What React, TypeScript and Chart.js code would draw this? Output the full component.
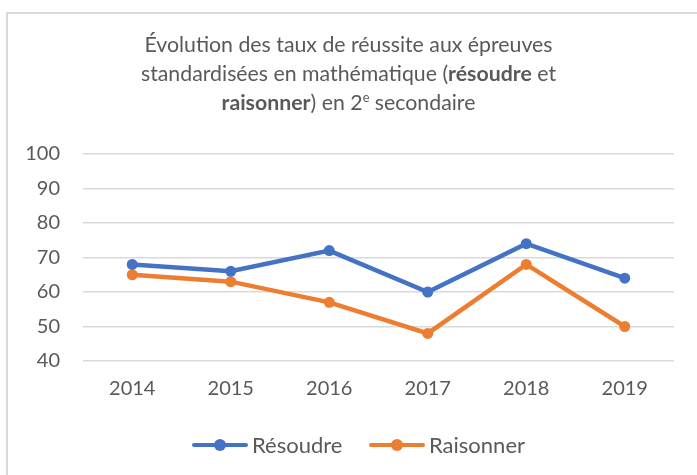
import React, { useEffect, useRef } from "react";
import { Chart, registerables } from "chart.js";

Chart.register(...registerables);

const years = ["2014", "2015", "2016", "2017", "2018", "2019"];
const resoudre = [68, 66, 72, 60, 74, 64];
const raisonner = [65, 63, 57, 48, 68, 50];
const yMin = 40;
const yMax = 100;
const yStep = 10;

const BLUE = "#4472C4";
const ORANGE = "#ED7D31";
const TEXT = "#595959";
const GRID = "#d9d9d9";
const FONT = "Lato, 'Open Sans', sans-serif";

function LegendItem({ color, label, left }: { color: string; label: string; left: number }) {
  return (
    <div style={{ position: "absolute", left, top: 0, display: "flex", alignItems: "center", height: 26 }}>
      <div style={{ position: "relative", width: 56, height: 12, marginRight: 4 }}>
        <div
          style={{
            position: "absolute",
            left: 0,
            right: 0,
            top: 4,
            height: 4,
            borderRadius: 2,
            background: color,
          }}
        />
        <div
          style={{
            position: "absolute",
            left: 22,
            top: 0,
            width: 12,
            height: 12,
            borderRadius: 6,
            background: color,
          }}
        />
      </div>
      <span>{label}</span>
    </div>
  );
}

export default function App() {
  const ref = useRef<HTMLCanvasElement | null>(null);

  useEffect(() => {
    if (!ref.current) return;
    const chart = new Chart(ref.current, {
      type: "line",
      data: {
        labels: years,
        datasets: [
          {
            label: "Résoudre",
            data: resoudre,
            borderColor: BLUE,
            backgroundColor: BLUE,
            borderWidth: 4.5,
            pointRadius: 5.5,
            pointHoverRadius: 5.5,
            pointBorderWidth: 0,
            tension: 0,
          },
          {
            label: "Raisonner",
            data: raisonner,
            borderColor: ORANGE,
            backgroundColor: ORANGE,
            borderWidth: 4.5,
            pointRadius: 5.5,
            pointHoverRadius: 5.5,
            pointBorderWidth: 0,
            tension: 0,
          },
        ],
      },
      options: {
        animation: false,
        responsive: false,
        maintainAspectRatio: false,
        layout: { padding: { top: 154, right: 23, bottom: 64, left: 0 } },
        plugins: {
          legend: { display: false },
          title: { display: false },
          tooltip: { enabled: false },
        },
        scales: {
          x: {
            offset: true,
            grid: { display: false, drawTicks: false },
            border: { display: false },
            ticks: {
              color: TEXT,
              padding: 16,
              font: { family: FONT, size: 20 },
              maxRotation: 0,
            },
            afterFit: (s: any) => {
              s.height = 50;
            },
          },
          y: {
            min: yMin,
            max: yMax,
            grid: { color: GRID, lineWidth: 1.5, drawTicks: false },
            border: { display: false },
            ticks: {
              stepSize: yStep,
              color: TEXT,
              padding: 23,
              font: { family: FONT, size: 20 },
            },
            afterFit: (s: any) => {
              s.width = 83;
            },
          },
        },
      },
    });
    return () => chart.destroy();
  }, []);

  return (
    <div
      style={{
        position: "fixed",
        left: 0,
        top: 0,
        width: 697,
        height: 475,
        background: "#fff",
        overflow: "hidden",
        fontFamily: FONT,
        color: TEXT,
      }}
    >
      <div
        style={{
          position: "absolute",
          left: 6,
          top: 12,
          width: 720,
          height: 500,
          borderTop: `2px solid ${GRID}`,
          borderLeft: `2px solid ${GRID}`,
        }}
      />
      <canvas
        ref={ref}
        width={697}
        height={475}
        style={{ position: "absolute", left: 0, top: 0, width: 697, height: 475 }}
      />
      <div
        style={{
          position: "absolute",
          left: 0,
          width: 697,
          top: 30,
          textAlign: "center",
          fontSize: 21.3,
          lineHeight: "29px",
        }}
      >
        Évolution des taux de réussite aux épreuves
        <br />
        standardisées en mathématique (<b>résoudre</b> et
        <br />
        <b>raisonner</b>) en 2
        <span style={{ fontSize: "0.6em", position: "relative", top: "-0.6em" }}>e</span>{" "}
        secondaire
      </div>
      <div
        style={{
          position: "absolute",
          left: 0,
          top: 432,
          width: 697,
          height: 26,
          fontSize: 22,
          lineHeight: "26px",
        }}
      >
        <LegendItem color={BLUE} label="Résoudre" left={192} />
        <LegendItem color={ORANGE} label="Raisonner" left={369} />
      </div>
    </div>
  );
}
